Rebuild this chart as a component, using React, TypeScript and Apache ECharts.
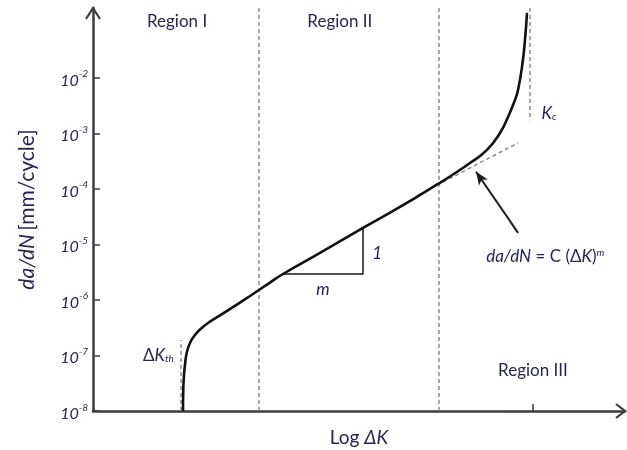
import { useEffect, useRef } from "react";
import * as echarts from "echarts";

const FONT = "Lato, 'Open Sans', sans-serif";
const INK = "#262650";
const AXIS = "#3c3c3c";
const DASH = "#8c8c8c";

// Horizontal axis: log ΔK in arbitrary units; vertical axis: log10(da/dN)
const xRange = [0, 10];
const yRange = [-8, -0.74];
const decadeTicks = [-8, -7, -6, -5, -4, -3, -2];
const xTickAt = [8.27];

// Fatigue crack growth curve [log ΔK, log10(da/dN)]
const crackGrowthCurve: [number, number][] = [
  [1.692, -8.0],
  [1.697, -7.62],
  [1.711, -7.35],
  [1.729, -7.17],
  [1.761, -6.955],
  [1.823, -6.775],
  [1.917, -6.631],
  [2.043, -6.505],
  [2.162, -6.414],
  [2.387, -6.279],
  [2.669, -6.105],
  [2.951, -5.928],
  [3.12, -5.82],
  [3.327, -5.686],
  [3.571, -5.532],
  [4.267, -5.153],
  [5.075, -4.703],
  [5.771, -4.324],
  [6.485, -3.91],
  [6.767, -3.739],
  [7.086, -3.532],
  [7.406, -3.297],
  [7.65, -2.991],
  [7.801, -2.703],
  [7.932, -2.396],
  [7.989, -2.216],
  [8.064, -1.802],
  [8.12, -1.315],
  [8.158, -0.829],
];

// Region I / II / III boundaries
const regionBoundaries = [3.12, 6.49];
// Threshold ΔK_th marker and fracture toughness K_c marker
const thresholdMarker: [number, number][] = [[1.65, -8.0], [1.65, -6.72]];
const criticalMarker: [number, number][] = [[8.21, -0.74], [8.21, -2.76]];
// Paris-law straight-line extension
const parisExtension: [number, number][] = [[6.11, -4.11], [7.99, -3.17]];
// Slope triangle (run m, rise 1)
const slopeTriangle: [number, number][] = [[3.571, -5.532], [5.075, -5.532], [5.075, -4.703]];
// Pointer from the Paris-law equation to the straight line
const pointer: [number, number][] = [[7.99, -4.79], [7.2, -3.69]];

// Text anchors
const regionLabels: { text: string; at: [number, number] }[] = [
  { text: "Region I", at: [1.58, -0.96] },
  { text: "Region II", at: [4.64, -0.96] },
  { text: "Region III", at: [8.27, -7.26] },
];
const thresholdLabelAt: [number, number] = [1.52, -6.99];
const criticalLabelAt: [number, number] = [8.43, -2.63];
const riseLabelAt: [number, number] = [5.34, -5.15];
const runLabelAt: [number, number] = [4.32, -5.8];
const equationAt: [number, number] = [7.39, -5.19];

const LABEL_SIZE = 17;
const textRich = {
  n: { fontFamily: FONT, fontSize: LABEL_SIZE, fill: INK },
  i: { fontFamily: FONT, fontSize: LABEL_SIZE, fontStyle: "italic", fill: INK },
  sub: { fontFamily: FONT, fontSize: 10, fontStyle: "italic", fill: INK, verticalAlign: "bottom", padding: [7, 0, 0, 0] },
  sup: { fontFamily: FONT, fontSize: 10, fontStyle: "italic", fill: INK, verticalAlign: "top", padding: [0, 0, 7, 0] },
};

export default function App() {
  const ref = useRef<HTMLDivElement>(null);

  useEffect(() => {
    if (!ref.current) return;
    const chart = echarts.init(ref.current, null, { renderer: "svg" });

    const dashed = { color: DASH, width: 1.5, type: [4, 3] as number[] };

    chart.setOption({
      animation: false,
      grid: { left: 93, right: 2, top: 8, bottom: 39, outerBoundsMode: "none" },
      xAxis: {
        type: "value",
        min: xRange[0],
        max: xRange[1],
        name: "{n|Log }{i|ΔK}",
        nameLocation: "middle",
        nameGap: 16,
        nameTextStyle: {
          rich: {
            n: { fontFamily: FONT, fontSize: 19, color: INK },
            i: { fontFamily: FONT, fontSize: 19, fontStyle: "italic", color: INK },
          },
        },
        axisLine: { onZero: false, lineStyle: { color: AXIS, width: 2.5 } },
        axisTick: { show: true, inside: true, length: 7, customValues: xTickAt, lineStyle: { color: AXIS, width: 1.5 } },
        axisLabel: { show: false },
        splitLine: { show: false },
      },
      yAxis: {
        type: "value",
        min: yRange[0],
        max: yRange[1],
        name: "{i|da/dN} {n|[mm/cycle]}",
        nameLocation: "middle",
        nameRotate: 90,
        nameGap: 57,
        nameTextStyle: {
          rich: {
            n: { fontFamily: FONT, fontSize: 21, color: INK },
            i: { fontFamily: FONT, fontSize: 21, fontStyle: "italic", color: INK },
          },
        },
        axisLine: { onZero: false, lineStyle: { color: AXIS, width: 2.5 } },
        axisTick: { show: true, inside: true, length: 7, customValues: decadeTicks, lineStyle: { color: AXIS, width: 1.5 } },
        axisLabel: {
          customValues: decadeTicks,
          margin: 5,
          formatter: (v: number) => `{b|10}{s|${v}}`,
          rich: {
            b: { fontFamily: FONT, fontSize: 16, fontStyle: "italic", color: INK, verticalAlign: "bottom", lineHeight: 19 },
            s: { fontFamily: FONT, fontSize: 10, fontStyle: "italic", color: INK, verticalAlign: "top" },
          },
        },
        splitLine: { show: false },
      },
      series: [
        {
          name: "Region boundaries",
          type: "line",
          data: [],
          markLine: {
            silent: true,
            symbol: "none",
            label: { show: false },
            lineStyle: dashed,
            data: [
              ...regionBoundaries.map((x) => ({ xAxis: x })),
              [{ coord: thresholdMarker[0] }, { coord: thresholdMarker[1] }],
              [{ coord: criticalMarker[0] }, { coord: criticalMarker[1] }],
            ],
          },
        },
        {
          name: "Paris law",
          type: "line",
          data: parisExtension,
          showSymbol: false,
          lineStyle: dashed,
        },
        {
          name: "Slope",
          type: "line",
          data: slopeTriangle,
          showSymbol: false,
          lineStyle: { color: "#1a1a1a", width: 1.5 },
        },
        {
          name: "da/dN",
          type: "line",
          data: crackGrowthCurve,
          smooth: 0.5,
          showSymbol: false,
          lineStyle: { color: "#111", width: 2.6 },
          z: 5,
        },
        {
          name: "Pointer",
          type: "line",
          data: [],
          markLine: {
            silent: true,
            symbol: ["none", "arrow"],
            symbolSize: [8, 13],
            label: { show: false },
            lineStyle: { color: "#1a1a1a", width: 2, type: "solid" },
            data: [[{ coord: pointer[0] }, { coord: pointer[1] }]],
          },
        },
      ],
    });

    const px = (p: [number, number]) => chart.convertToPixel({ gridIndex: 0 }, p) as number[];
    const yEnd = px([xRange[0], yRange[1]]);
    const xEnd = px([xRange[1], yRange[0]]);

    const label = (text: string, at: [number, number], align: string) => {
      const [x, y] = px(at);
      return {
        type: "text",
        x,
        y,
        style: {
          text,
          rich: textRich,
          fontFamily: FONT,
          fontSize: LABEL_SIZE,
          fill: INK,
          align,
          verticalAlign: "middle",
        },
        z: 10,
      };
    };

    chart.setOption({
      graphic: [
        {
          type: "polyline",
          shape: { points: [[yEnd[0] - 7, yEnd[1] + 11], [yEnd[0], yEnd[1]], [yEnd[0] + 7, yEnd[1] + 11]] },
          style: { stroke: AXIS, lineWidth: 2.2, fill: "none" },
          z: 10,
        },
        {
          type: "polyline",
          shape: { points: [[xEnd[0] - 9, xEnd[1] - 7], [xEnd[0], xEnd[1]], [xEnd[0] - 9, xEnd[1] + 7]] },
          style: { stroke: AXIS, lineWidth: 2.2, fill: "none" },
          z: 10,
        },
        ...regionLabels.map((r) => label(`{n|${r.text}}`, r.at, "center")),
        label("{n|Δ}{i|K}{sub|th}", thresholdLabelAt, "right"),
        label("{i|K}{sub|c}", criticalLabelAt, "left"),
        label("{i|1}", riseLabelAt, "center"),
        label("{i|m}", runLabelAt, "center"),
        label("{i|da/dN} {n|= C (Δ}{i|K}{n|)}{sup|m}", equationAt, "left"),
      ],
    });

    return () => chart.dispose();
  }, []);

  return <div ref={ref} style={{ position: "fixed", left: 0, top: 0, width: 627, height: 450 }} />;
}
